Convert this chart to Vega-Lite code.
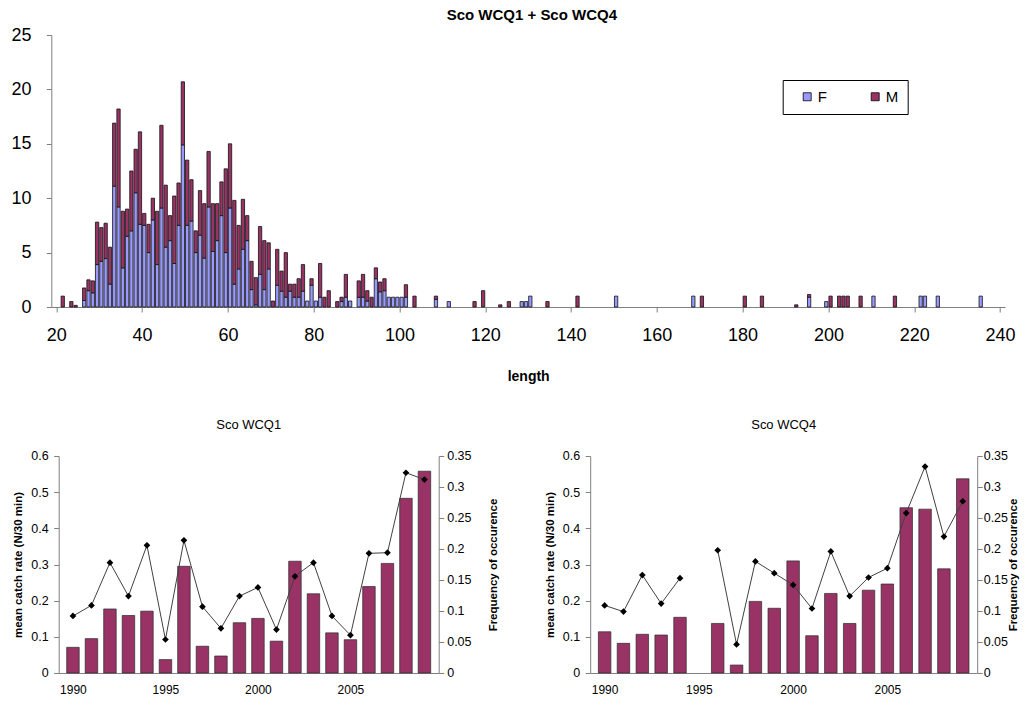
{
  "$schema": "https://vega.github.io/schema/vega-lite/v6.json",
  "background": "white",
  "padding": {"left": 10.7, "top": 8, "right": 0, "bottom": 0},
  "config": {
    "font": "Liberation Sans",
    "view": {"stroke": null},
    "axis": {"grid": false, "domainColor": "#7f7f7f", "tickColor": "#7f7f7f", "labelColor": "#000000", "titleColor": "#000000", "labelFont": "Liberation Sans", "titleFont": "Liberation Sans"},
    "title": {"color": "#000000", "font": "Liberation Sans"},
    "legend": {"labelFont": "Liberation Sans"}
  },
  "datasets": {
    "hist": [
      {"length": 21, "sex": "M", "count": 1},
      {"length": 23, "sex": "M", "count": 0.5},
      {"length": 24, "sex": "M", "count": 0.15},
      {"length": 26, "sex": "F", "count": 0.6}, {"length": 26, "sex": "M", "count": 1.15},
      {"length": 27, "sex": "F", "count": 1.5}, {"length": 27, "sex": "M", "count": 1.0},
      {"length": 28, "sex": "F", "count": 1.3}, {"length": 28, "sex": "M", "count": 1.1},
      {"length": 29, "sex": "F", "count": 3.9}, {"length": 29, "sex": "M", "count": 3.9},
      {"length": 30, "sex": "F", "count": 4.2}, {"length": 30, "sex": "M", "count": 3.1},
      {"length": 31, "sex": "F", "count": 4.45}, {"length": 31, "sex": "M", "count": 3.25},
      {"length": 32, "sex": "F", "count": 2.1}, {"length": 32, "sex": "M", "count": 3.4},
      {"length": 33, "sex": "F", "count": 11.1}, {"length": 33, "sex": "M", "count": 5.8},
      {"length": 34, "sex": "F", "count": 9.2}, {"length": 34, "sex": "M", "count": 9.0},
      {"length": 35, "sex": "F", "count": 3.6}, {"length": 35, "sex": "M", "count": 5.2},
      {"length": 36, "sex": "F", "count": 6.5}, {"length": 36, "sex": "M", "count": 2.5},
      {"length": 37, "sex": "F", "count": 7.0}, {"length": 37, "sex": "M", "count": 5.5},
      {"length": 38, "sex": "F", "count": 10.5}, {"length": 38, "sex": "M", "count": 4.0},
      {"length": 39, "sex": "F", "count": 7.6}, {"length": 39, "sex": "M", "count": 8.5},
      {"length": 40, "sex": "F", "count": 7.5}, {"length": 40, "sex": "M", "count": 1.1},
      {"length": 41, "sex": "F", "count": 5.0}, {"length": 41, "sex": "M", "count": 2.6},
      {"length": 42, "sex": "F", "count": 8.0}, {"length": 42, "sex": "M", "count": 2.0},
      {"length": 43, "sex": "F", "count": 3.9}, {"length": 43, "sex": "M", "count": 4.9},
      {"length": 44, "sex": "F", "count": 9.1}, {"length": 44, "sex": "M", "count": 7.6},
      {"length": 45, "sex": "F", "count": 5.5}, {"length": 45, "sex": "M", "count": 5.7},
      {"length": 46, "sex": "F", "count": 6.1}, {"length": 46, "sex": "M", "count": 2.3},
      {"length": 47, "sex": "F", "count": 4.0}, {"length": 47, "sex": "M", "count": 6.2},
      {"length": 48, "sex": "F", "count": 7.5}, {"length": 48, "sex": "M", "count": 3.9},
      {"length": 49, "sex": "F", "count": 14.9}, {"length": 49, "sex": "M", "count": 5.8},
      {"length": 50, "sex": "F", "count": 7.5}, {"length": 50, "sex": "M", "count": 6.0},
      {"length": 51, "sex": "F", "count": 7.9}, {"length": 51, "sex": "M", "count": 3.8},
      {"length": 52, "sex": "F", "count": 5.0}, {"length": 52, "sex": "M", "count": 2.0},
      {"length": 53, "sex": "F", "count": 6.6}, {"length": 53, "sex": "M", "count": 4.1},
      {"length": 54, "sex": "F", "count": 4.5}, {"length": 54, "sex": "M", "count": 5.0},
      {"length": 55, "sex": "F", "count": 9.2}, {"length": 55, "sex": "M", "count": 5.1},
      {"length": 56, "sex": "F", "count": 5.1}, {"length": 56, "sex": "M", "count": 4.4},
      {"length": 57, "sex": "F", "count": 6.1}, {"length": 57, "sex": "M", "count": 3.4},
      {"length": 58, "sex": "F", "count": 8.4}, {"length": 58, "sex": "M", "count": 3.1},
      {"length": 59, "sex": "F", "count": 5.0}, {"length": 59, "sex": "M", "count": 7.7},
      {"length": 60, "sex": "F", "count": 9.1}, {"length": 60, "sex": "M", "count": 5.9},
      {"length": 61, "sex": "F", "count": 2.1}, {"length": 61, "sex": "M", "count": 7.7},
      {"length": 62, "sex": "F", "count": 3.5}, {"length": 62, "sex": "M", "count": 4.0},
      {"length": 63, "sex": "F", "count": 5.3}, {"length": 63, "sex": "M", "count": 4.6},
      {"length": 64, "sex": "F", "count": 6.1}, {"length": 64, "sex": "M", "count": 2.3},
      {"length": 65, "sex": "F", "count": 1.6}, {"length": 65, "sex": "M", "count": 2.6},
      {"length": 66, "sex": "F", "count": 0.2}, {"length": 66, "sex": "M", "count": 2.5},
      {"length": 67, "sex": "F", "count": 3.0}, {"length": 67, "sex": "M", "count": 4.4},
      {"length": 68, "sex": "F", "count": 1.6}, {"length": 68, "sex": "M", "count": 4.5},
      {"length": 69, "sex": "F", "count": 3.5}, {"length": 69, "sex": "M", "count": 2.4},
      {"length": 70, "sex": "M", "count": 0.55},
      {"length": 71, "sex": "F", "count": 2.0}, {"length": 71, "sex": "M", "count": 3.3},
      {"length": 72, "sex": "F", "count": 1.45}, {"length": 72, "sex": "M", "count": 1.85},
      {"length": 73, "sex": "F", "count": 0.9}, {"length": 73, "sex": "M", "count": 4.1},
      {"length": 74, "sex": "F", "count": 1.45}, {"length": 74, "sex": "M", "count": 0.65},
      {"length": 75, "sex": "F", "count": 0.9}, {"length": 75, "sex": "M", "count": 1.2},
      {"length": 76, "sex": "F", "count": 0.9}, {"length": 76, "sex": "M", "count": 1.7},
      {"length": 77, "sex": "F", "count": 1.45}, {"length": 77, "sex": "M", "count": 2.45},
      {"length": 78, "sex": "F", "count": 0.55},
      {"length": 79, "sex": "F", "count": 2.0}, {"length": 79, "sex": "M", "count": 0.6},
      {"length": 80, "sex": "F", "count": 0.55},
      {"length": 81, "sex": "F", "count": 0.9}, {"length": 81, "sex": "M", "count": 3.1},
      {"length": 82, "sex": "M", "count": 0.9},
      {"length": 83, "sex": "M", "count": 1.5},
      {"length": 85, "sex": "M", "count": 0.5},
      {"length": 86, "sex": "F", "count": 0.5}, {"length": 86, "sex": "M", "count": 0.4},
      {"length": 87, "sex": "F", "count": 0.9}, {"length": 87, "sex": "M", "count": 2.1},
      {"length": 88, "sex": "F", "count": 0.55},
      {"length": 90, "sex": "F", "count": 0.9}, {"length": 90, "sex": "M", "count": 1.5},
      {"length": 91, "sex": "F", "count": 0.9}, {"length": 91, "sex": "M", "count": 2.1},
      {"length": 92, "sex": "F", "count": 0.55}, {"length": 92, "sex": "M", "count": 0.95},
      {"length": 93, "sex": "M", "count": 0.9},
      {"length": 94, "sex": "F", "count": 2.6}, {"length": 94, "sex": "M", "count": 1.0},
      {"length": 95, "sex": "F", "count": 1.4}, {"length": 95, "sex": "M", "count": 0.9},
      {"length": 96, "sex": "F", "count": 1.5}, {"length": 96, "sex": "M", "count": 1.1},
      {"length": 97, "sex": "F", "count": 0.9},
      {"length": 98, "sex": "F", "count": 0.9},
      {"length": 99, "sex": "F", "count": 0.9},
      {"length": 100, "sex": "F", "count": 0.9},
      {"length": 101, "sex": "F", "count": 0.9}, {"length": 101, "sex": "M", "count": 1.15},
      {"length": 103, "sex": "M", "count": 1},
      {"length": 108, "sex": "F", "count": 0.7}, {"length": 108, "sex": "M", "count": 0.3},
      {"length": 111, "sex": "F", "count": 0.5},
      {"length": 117, "sex": "M", "count": 0.5},
      {"length": 119, "sex": "M", "count": 1.5},
      {"length": 123, "sex": "M", "count": 0.2},
      {"length": 125, "sex": "M", "count": 0.5},
      {"length": 128, "sex": "F", "count": 0.5},
      {"length": 129, "sex": "F", "count": 0.5},
      {"length": 130, "sex": "F", "count": 1},
      {"length": 134, "sex": "M", "count": 0.5},
      {"length": 141, "sex": "M", "count": 1},
      {"length": 150, "sex": "F", "count": 1},
      {"length": 168, "sex": "F", "count": 1},
      {"length": 170, "sex": "M", "count": 1},
      {"length": 180, "sex": "M", "count": 1},
      {"length": 184, "sex": "M", "count": 1},
      {"length": 192, "sex": "M", "count": 0.2},
      {"length": 195, "sex": "F", "count": 0.9}, {"length": 195, "sex": "M", "count": 0.25},
      {"length": 199, "sex": "F", "count": 0.5},
      {"length": 200, "sex": "M", "count": 1},
      {"length": 202, "sex": "M", "count": 1},
      {"length": 203, "sex": "M", "count": 1},
      {"length": 204, "sex": "M", "count": 1},
      {"length": 207, "sex": "M", "count": 1},
      {"length": 210, "sex": "F", "count": 1},
      {"length": 215, "sex": "M", "count": 1},
      {"length": 221, "sex": "F", "count": 1},
      {"length": 222, "sex": "F", "count": 1},
      {"length": 225, "sex": "F", "count": 1},
      {"length": 235, "sex": "F", "count": 1}
    ],
    "panels": [
      {"panel": "Sco WCQ1", "year": 1990, "catch": 0.071, "freq": 0.092},
      {"panel": "Sco WCQ1", "year": 1991, "catch": 0.095, "freq": 0.109},
      {"panel": "Sco WCQ1", "year": 1992, "catch": 0.177, "freq": 0.178},
      {"panel": "Sco WCQ1", "year": 1993, "catch": 0.159, "freq": 0.124},
      {"panel": "Sco WCQ1", "year": 1994, "catch": 0.171, "freq": 0.206},
      {"panel": "Sco WCQ1", "year": 1995, "catch": 0.037, "freq": 0.054},
      {"panel": "Sco WCQ1", "year": 1996, "catch": 0.295, "freq": 0.214},
      {"panel": "Sco WCQ1", "year": 1997, "catch": 0.074, "freq": 0.107},
      {"panel": "Sco WCQ1", "year": 1998, "catch": 0.047, "freq": 0.072},
      {"panel": "Sco WCQ1", "year": 1999, "catch": 0.139, "freq": 0.124},
      {"panel": "Sco WCQ1", "year": 2000, "catch": 0.151, "freq": 0.138},
      {"panel": "Sco WCQ1", "year": 2001, "catch": 0.088, "freq": 0.07},
      {"panel": "Sco WCQ1", "year": 2002, "catch": 0.309, "freq": 0.156},
      {"panel": "Sco WCQ1", "year": 2003, "catch": 0.219, "freq": 0.178},
      {"panel": "Sco WCQ1", "year": 2004, "catch": 0.111, "freq": 0.092},
      {"panel": "Sco WCQ1", "year": 2005, "catch": 0.092, "freq": 0.061},
      {"panel": "Sco WCQ1", "year": 2006, "catch": 0.239, "freq": 0.193},
      {"panel": "Sco WCQ1", "year": 2007, "catch": 0.303, "freq": 0.194},
      {"panel": "Sco WCQ1", "year": 2008, "catch": 0.483, "freq": 0.323},
      {"panel": "Sco WCQ1", "year": 2009, "catch": 0.558, "freq": 0.312},
      {"panel": "Sco WCQ4", "year": 1990, "catch": 0.114, "freq": 0.109},
      {"panel": "Sco WCQ4", "year": 1991, "catch": 0.082, "freq": 0.099},
      {"panel": "Sco WCQ4", "year": 1992, "catch": 0.107, "freq": 0.158},
      {"panel": "Sco WCQ4", "year": 1993, "catch": 0.105, "freq": 0.112},
      {"panel": "Sco WCQ4", "year": 1994, "catch": 0.154, "freq": 0.153},
      {"panel": "Sco WCQ4", "year": 1995, "catch": null, "freq": null},
      {"panel": "Sco WCQ4", "year": 1996, "catch": 0.137, "freq": 0.198},
      {"panel": "Sco WCQ4", "year": 1997, "catch": 0.022, "freq": 0.046},
      {"panel": "Sco WCQ4", "year": 1998, "catch": 0.198, "freq": 0.18},
      {"panel": "Sco WCQ4", "year": 1999, "catch": 0.179, "freq": 0.161},
      {"panel": "Sco WCQ4", "year": 2000, "catch": 0.31, "freq": 0.142},
      {"panel": "Sco WCQ4", "year": 2001, "catch": 0.103, "freq": 0.104},
      {"panel": "Sco WCQ4", "year": 2002, "catch": 0.22, "freq": 0.196},
      {"panel": "Sco WCQ4", "year": 2003, "catch": 0.137, "freq": 0.124},
      {"panel": "Sco WCQ4", "year": 2004, "catch": 0.229, "freq": 0.154},
      {"panel": "Sco WCQ4", "year": 2005, "catch": 0.246, "freq": 0.169},
      {"panel": "Sco WCQ4", "year": 2006, "catch": 0.457, "freq": 0.258},
      {"panel": "Sco WCQ4", "year": 2007, "catch": 0.453, "freq": 0.333},
      {"panel": "Sco WCQ4", "year": 2008, "catch": 0.288, "freq": 0.22},
      {"panel": "Sco WCQ4", "year": 2009, "catch": 0.537, "freq": 0.277}
    ]
  },
  "concat": [
    {
      "width": 946.3,
      "height": 272,
      "title": {"text": "Sco WCQ1 + Sco WCQ4", "fontSize": 15, "fontWeight": "bold", "offset": 3, "anchor": "middle"},
      "data": {"name": "hist"},
      "mark": {"type": "bar", "width": 3.3, "xOffset": 2.17, "stroke": "#111111", "strokeWidth": 0.8},
      "encoding": {
        "x": {"field": "length", "type": "quantitative", "scale": {"domain": [20, 240], "range": [-7.4, 946.3], "nice": false, "zero": false},
          "axis": {"values": [20, 40, 60, 80, 100, 120, 140, 160, 180, 200, 220, 240], "format": "d", "labelFontSize": 18, "tickSize": 5, "labelPadding": 14, "labelFlush": false, "title": "length", "titleFontSize": 14, "titleFontWeight": "bold", "titlePadding": 26}},
        "y": {"field": "count", "type": "quantitative", "stack": "zero", "scale": {"domain": [0, 25], "nice": false},
          "axis": {"values": [0, 5, 10, 15, 20, 25], "offset": 7.4, "labelFontSize": 18, "tickSize": 5, "labelPadding": 15.3, "title": null}},
        "order": {"field": "sex", "sort": "ascending"},
        "color": {"field": "sex", "type": "nominal", "scale": {"domain": ["F", "M"], "range": ["#9999ff", "#993366"]},
          "legend": {"title": null, "orient": "none", "legendX": 724, "legendY": 45, "direction": "horizontal", "strokeColor": "#000000", "fillColor": "#ffffff", "padding": 9, "symbolType": "square", "symbolSize": 64, "symbolStrokeColor": "#000000", "symbolStrokeWidth": 0.8, "labelFontSize": 15, "labelOffset": 3, "columnPadding": 32, "symbolOffset": 8}}
      }
    },
    {
      "hconcat": [
        {
          "width": 380,
          "height": 217,
          "title": {"text": "Sco WCQ1", "fontSize": 13, "fontWeight": "normal", "offset": 18},
          "data": {"name": "panels"},
          "transform": [{"filter": "datum.panel === 'Sco WCQ1'"}],
          "encoding": {
            "x": {"field": "year", "type": "quantitative", "scale": {"domain": [1989.5, 2009.5], "nice": false, "zero": false},
              "axis": {"values": [1990, 1995, 2000, 2005], "format": "d", "title": null, "ticks": false, "tickSize": 0, "labelPadding": 12, "labelFontSize": 12}}
          },
          "layer": [
            {
              "mark": {"type": "bar", "width": 12.5, "color": "#993366", "stroke": "#2b2b2b", "strokeWidth": 0.7},
              "encoding": {
                "y": {"field": "catch", "type": "quantitative", "scale": {"domain": [0, 0.6], "nice": false},
                  "axis": {"orient": "left", "values": [0, 0.1, 0.2, 0.3, 0.4, 0.5, 0.6], "format": "~g", "title": "mean catch rate (N/30 min)", "titleFontSize": 11.5, "titleFontWeight": "bold", "titlePadding": 7, "labelFontSize": 12.5, "labelPadding": 5.5, "tickSize": 5}}
              }
            },
            {
              "mark": {"type": "line", "color": "#404040", "strokeWidth": 1, "invalid": "break-paths-filter-domains", "point": {"shape": "diamond", "filled": true, "color": "#000000", "size": 45}},
              "encoding": {
                "y": {"field": "freq", "type": "quantitative", "scale": {"domain": [0, 0.35], "nice": false},
                  "axis": {"orient": "right", "values": [0, 0.05, 0.1, 0.15, 0.2, 0.25, 0.3, 0.35], "format": "~g", "title": "Frequency of occurence", "titleAngle": 270, "titleBaseline": "top", "titleFontSize": 11.5, "titleFontWeight": "bold", "titlePadding": 16, "labelFontSize": 12.5, "labelPadding": 3, "tickSize": 5}}
              }
            }
          ],
          "resolve": {"scale": {"y": "independent"}}
        },
        {
          "width": 387,
          "height": 217,
          "title": {"text": "Sco WCQ4", "fontSize": 13, "fontWeight": "normal", "offset": 18},
          "data": {"name": "panels"},
          "transform": [{"filter": "datum.panel === 'Sco WCQ4'"}],
          "encoding": {
            "x": {"field": "year", "type": "quantitative", "scale": {"domain": [1989.5, 2009.5], "nice": false, "zero": false},
              "axis": {"values": [1990, 1995, 2000, 2005], "format": "d", "title": null, "ticks": false, "tickSize": 0, "labelPadding": 12, "labelFontSize": 12}}
          },
          "layer": [
            {
              "mark": {"type": "bar", "width": 12.5, "color": "#993366", "stroke": "#2b2b2b", "strokeWidth": 0.7},
              "encoding": {
                "y": {"field": "catch", "type": "quantitative", "scale": {"domain": [0, 0.6], "nice": false},
                  "axis": {"orient": "left", "values": [0, 0.1, 0.2, 0.3, 0.4, 0.5, 0.6], "format": "~g", "title": "mean catch rate (N/30 min)", "titleFontSize": 11.5, "titleFontWeight": "bold", "titlePadding": 7, "labelFontSize": 12.5, "labelPadding": 5.5, "tickSize": 5}}
              }
            },
            {
              "mark": {"type": "line", "color": "#404040", "strokeWidth": 1, "invalid": "break-paths-filter-domains", "point": {"shape": "diamond", "filled": true, "color": "#000000", "size": 45}},
              "encoding": {
                "y": {"field": "freq", "type": "quantitative", "scale": {"domain": [0, 0.35], "nice": false},
                  "axis": {"orient": "right", "values": [0, 0.05, 0.1, 0.15, 0.2, 0.25, 0.3, 0.35], "format": "~g", "title": "Frequency of occurence", "titleAngle": 270, "titleBaseline": "top", "titleFontSize": 11.5, "titleFontWeight": "bold", "titlePadding": 0, "labelFontSize": 12.5, "labelPadding": 1, "tickSize": 5}}
              }
            }
          ],
          "resolve": {"scale": {"y": "independent"}}
        }
      ],
      "spacing": 45.5
    }
  ],
  "columns": 1,
  "align": "none",
  "spacing": 35
}
